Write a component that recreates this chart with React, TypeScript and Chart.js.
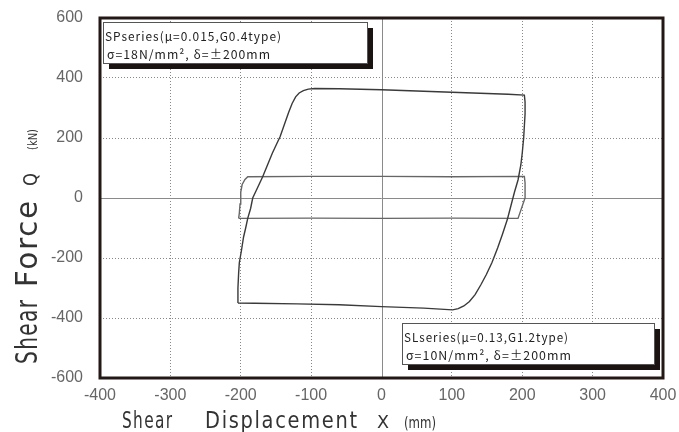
import React, { useEffect, useRef } from "react";
import { Chart, registerables } from "chart.js";
Chart.register(...registerables);

// Large loop (μ=0.13, G1.2 type): displacement (mm), shear force (kN)
const loopLX = [-204, -204, -203, -202, -199, -196, -193, -190, -186, -183, -176, -169, -162, -155, -149, -144, -138, -132, -127, -122, -117, -111, -104, -95, -60, 0, 60, 120, 180, 203, 204, 204, 203, 202, 200, 198, 194, 189, 184, 179, 172, 165, 157, 149, 141, 133, 125, 117, 109, 101, 60, 0, -60, -120, -180, -204];
const loopLY = [-350, -300, -250, -215, -175, -130, -100, -67, -35, 0, 35, 70, 110, 150, 180, 205, 245, 285, 315, 337, 350, 358, 363, 365, 364, 361, 356, 351, 346, 343, 320, 280, 240, 200, 150, 110, 60, 20, -25, -70, -120, -167, -215, -255, -290, -322, -345, -360, -369, -373, -367, -362, -356, -353, -351, -350];

// Small loop (μ=0.015, G0.4 type)
const loopSX = [-203, -202, -201, -200, -198, -194, -190, -100, 0, 100, 203, 204, 204, 194, 100, 0, -100, -203];
const loopSY = [-68, -50, -20, 20, 45, 62, 71, 72, 72, 71, 72, 50, 0, -68, -67, -68, -67, -68];

const xTicks = [-400, -300, -200, -100, 0, 100, 200, 300, 400];
const yTicks = [-600, -400, -200, 0, 200, 400, 600];

const boxSP = ["SPseries(μ=0.015,G0.4type)", "σ=18N/mm², δ=±200mm"];
const boxSL = ["SLseries(μ=0.13,G1.2type)", "σ=10N/mm², δ=±200mm"];
const yTitle = ["Shear", "Force", "Q", "(kN)"];
const xTitle = ["Shear", "Displacement", "X", "(mm)"];

const toPts = (xs: number[], ys: number[]) => xs.map((x, i) => ({ x, y: ys[i] }));

// draw text starting at (0,0) in current transform, squeezed to a target width
const fitText = (ctx: any, text: string, font: string, spacing: number, width: number) => {
  ctx.font = font;
  ctx.letterSpacing = spacing + "px";
  const w = ctx.measureText(text).width - spacing;
  ctx.save();
  ctx.scale(width / w, 1);
  ctx.fillText(text, 0, 0);
  ctx.restore();
};

const decor = {
  id: "decor",
  beforeDatasetsDraw(chart: any) {
    const { ctx, chartArea: a, scales } = chart;
    ctx.save();
    ctx.strokeStyle = "#8a8a8a";
    ctx.lineWidth = 1;
    const x0 = Math.round(scales.x.getPixelForValue(0)) + 0.5;
    const y0 = Math.round(scales.y.getPixelForValue(0)) + 0.5;
    ctx.beginPath();
    ctx.moveTo(x0, a.top);
    ctx.lineTo(x0, a.bottom);
    ctx.moveTo(a.left, y0);
    ctx.lineTo(a.right, y0);
    ctx.stroke();
    ctx.restore();
  },
  afterDraw(chart: any) {
    const { ctx, chartArea: a } = chart;
    ctx.save();
    // frame
    ctx.strokeStyle = "#231815";
    ctx.lineWidth = 3;
    ctx.strokeRect(a.left, a.top, a.right - a.left, a.bottom - a.top);

    const drawBox = (x: number, y: number, w: number, h: number, lines: string[], w1: number, w2: number) => {
      ctx.fillStyle = "#1a1311";
      ctx.fillRect(x + 6, y + 6, w, h);
      ctx.fillStyle = "#ffffff";
      ctx.fillRect(x, y, w, h);
      ctx.strokeStyle = "#555";
      ctx.lineWidth = 1;
      ctx.strokeRect(x + 0.5, y + 0.5, w, h);
      ctx.fillStyle = "#222";
      ctx.textBaseline = "middle";
      ctx.textAlign = "left";
      ctx.save();
      ctx.translate(x + 2, y + 14);
      fitText(ctx, lines[0], "12px 'Noto Sans CJK JP', sans-serif", 1, w1);
      ctx.restore();
      ctx.save();
      ctx.translate(x + 4, y + 32);
      fitText(ctx, lines[1], "12px 'Noto Sans CJK JP', sans-serif", 1, w2);
      ctx.restore();
    };
    drawBox(103, 22, 264, 41, boxSP, 176, 163);
    drawBox(402, 323, 252, 41, boxSL, 164, 165);

    ctx.fillStyle = "#333";
    ctx.textBaseline = "alphabetic";
    ctx.textAlign = "left";
    // x title: [start x, width, font size]
    const xSpec = [[122, 50, 23], [205, 152, 23], [377, 12, 18], [404, 32, 15]];
    xTitle.forEach((p, i) => {
      const [sx, w, fs] = xSpec[i];
      ctx.save();
      ctx.translate(sx, 428);
      fitText(ctx, p, `${fs}px 'DejaVu Sans', sans-serif`, fs > 18 ? 2 : 0, w);
      ctx.restore();
    });
    // y title: [start y, length, font size]
    const ySpec = [[364, 64, 30], [287, 86, 30], [186, 13, 20], [150, 21, 13]];
    yTitle.forEach((p, i) => {
      const [sy, w, fs] = ySpec[i];
      ctx.save();
      ctx.translate(37, sy);
      ctx.rotate(-Math.PI / 2);
      fitText(ctx, p, `${fs}px 'DejaVu Sans', sans-serif`, fs > 18 ? 2 : 0, w);
      ctx.restore();
    });
    ctx.restore();
  },
};

export default function App() {
  const ref = useRef<HTMLCanvasElement>(null);
  useEffect(() => {
    if (!ref.current) return;
    const tickFont = { family: "'Liberation Sans', Arial, sans-serif", size: 16 };
    const chart = new Chart(ref.current, {
      type: "scatter",
      data: {
        datasets: [
          {
            data: toPts(loopLX, loopLY),
            showLine: true,
            borderColor: "#3a3a3a",
            borderWidth: 1.4,
            pointRadius: 0,
            tension: 0,
          },
          {
            data: toPts(loopSX, loopSY),
            showLine: true,
            borderColor: "#666",
            borderWidth: 1.4,
            pointRadius: 0,
            tension: 0,
          },
        ],
      },
      options: {
        responsive: false,
        animation: false,
        layout: { padding: { top: 18, right: 16, left: 0, bottom: 0 } },
        plugins: { legend: { display: false }, tooltip: { enabled: false } },
        scales: {
          x: {
            type: "linear",
            min: -400,
            max: 400,
            afterBuildTicks: (s: any) => { s.ticks = xTicks.map((v) => ({ value: v })); },
            afterFit: (s: any) => { s.height = 54; s.paddingLeft = 0; s.paddingRight = 0; },
            ticks: { color: "#666", font: tickFont, padding: 8, maxRotation: 0 },
            grid: {
              color: (c: any) => (c.tick && c.tick.value === 0 ? "transparent" : "#888"),
              drawTicks: false,
            },
            border: { display: false, dash: [1, 2] },
          },
          y: {
            type: "linear",
            min: -600,
            max: 600,
            afterBuildTicks: (s: any) => { s.ticks = yTicks.map((v) => ({ value: v })); },
            afterFit: (s: any) => { s.width = 100; s.paddingTop = 0; s.paddingBottom = 0; },
            ticks: { color: "#666", font: tickFont, padding: 17 },
            grid: {
              color: (c: any) => (c.tick && c.tick.value === 0 ? "transparent" : "#888"),
              drawTicks: false,
            },
            border: { display: false, dash: [1, 2] },
          },
        },
      },
      plugins: [decor],
    });
    return () => chart.destroy();
  }, []);
  return (
    <div style={{ position: "absolute", left: 0, top: 0, width: 679, height: 432, background: "#fff" }}>
      <canvas ref={ref} width={679} height={432} />
    </div>
  );
}
